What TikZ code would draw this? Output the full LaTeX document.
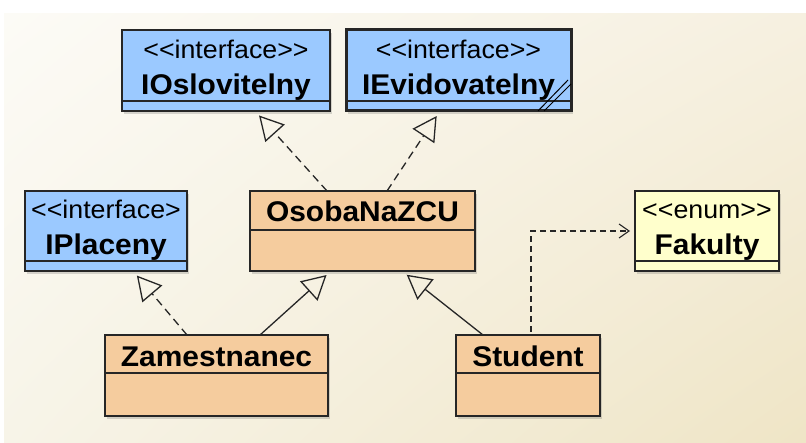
\documentclass[tikz,border=0pt]{standalone}
\usepackage{fontspec}
\setmainfont{Liberation Sans}
\newfontfamily\umlfont{Liberation Sans}[FakeStretch=1.05]
\usetikzlibrary{arrows.meta,positioning,shadows,shadings}
\definecolor{ifcblue}{RGB}{155,201,255}
\definecolor{clsorange}{RGB}{245,204,158}
\definecolor{enumyellow}{RGB}{255,255,204}
\definecolor{bgA}{RGB}{252,251,246}
\definecolor{bgB}{RGB}{246,240,224}
\definecolor{bgC}{RGB}{247,244,232}
\definecolor{bgD}{RGB}{239,229,198}
\newcommand\stereo[1]{<\kern0pt<#1>\kern0pt>}

\begin{document}
\begin{tikzpicture}[x=1pt, y=1pt,
cls/.style = {draw=black!85, line width=1.5pt, outer sep=0pt, inner sep=0pt,
              minimum height=81pt,
              drop shadow={shadow xshift=2pt, shadow yshift=-3pt,
                           opacity=0.25, fill=black!60}},
ifc/.style = {cls, fill=ifcblue},
cl/.style = {cls, fill=clsorange},
en/.style = {cls, fill=enumyellow},
nm/.style = {anchor=base, inner sep=0pt,
             font=\umlfont\bfseries\fontsize{28.5}{30}\selectfont},
st/.style = {anchor=base, inner sep=0pt,
             font=\umlfont\fontsize{25.5}{28}\selectfont},
sep/.style = {draw=black!85, line width=1.2pt},
real/.style = {draw=black!85, line width=1.3pt, dash pattern=on 8pt off 5pt,
               shorten >=6pt,
               -{Triangle[open, length=24pt, width=26pt, line width=1.3pt]}},
gen/.style = {draw=black!85, line width=1.3pt, shorten >=6pt,
              -{Triangle[open, length=24pt, width=26pt, line width=1.3pt]}},
dep/.style = {draw=black!85, line width=1.1pt, dash pattern=on 6pt off 4pt,
              shorten >=5pt, -{Straight Barb[length=10pt, width=14pt]}}
                ]
%% background
\useasboundingbox (0,0) rectangle (806,442);
\shade[upper left=bgA, upper right=bgB, lower left=bgC, lower right=bgD]
    (4,0) rectangle (806,428);

%% interfaces
\node (ioslov) [ifc, minimum width=208pt] at (226,371.5) {};
\node (ievid) [ifc, line width=3pt, minimum width=225pt] at (458.5,371.5) {};
\node (iplac) [ifc, minimum width=162pt, minimum height=80pt] at (106,211) {};
%% classes
\node (osoba) [cl, minimum width=225pt, minimum height=80pt] at (362.5,211) {};
\node (fak) [en, minimum width=144pt, minimum height=80pt] at (707,211) {};
\node (zam) [cl, minimum width=223pt] at (216.5,66.5) {};
\node (stud) [cl, minimum width=144pt] at (528,66.5) {};

%% compartments
\draw[sep] ([yshift=10pt]ioslov.south west) -- ([yshift=10pt]ioslov.south east);
\draw[sep, line width=2pt] ([yshift=10pt]ievid.south west) -- ([yshift=10pt]ievid.south east);
\draw[sep] ([yshift=10pt]iplac.south west) -- ([yshift=10pt]iplac.south east);
\draw[sep] ([yshift=10pt]fak.south west) -- ([yshift=10pt]fak.south east);
\draw[sep] ([yshift=41pt]osoba.south west) -- ([yshift=41pt]osoba.south east);
\draw[sep] ([yshift=43pt]zam.south west) -- ([yshift=43pt]zam.south east);
\draw[sep] ([yshift=43pt]stud.south west) -- ([yshift=43pt]stud.south east);
\draw[line width=1pt] ([xshift=-33pt]ievid.south east) -- ([xshift=-3pt,yshift=31pt]ievid.south east);
\draw[line width=1pt] ([xshift=-27pt]ievid.south east) -- ([yshift=27pt]ievid.south east);

%% texts
\node (ioslov-s) [st] at ([yshift=-29pt]ioslov.north) {\stereo{interface}};
\node (ioslov-n) [nm] at ([yshift=-65pt]ioslov.north) {IOslovitelny};
\node (ievid-s) [st] at ([yshift=-29pt]ievid.north) {\stereo{interface}};
\node (ievid-n) [nm] at ([yshift=-65pt]ievid.north) {IEvidovatelny};
\node (iplac-s) [st] at ([yshift=-28pt]iplac.north) {<\kern0pt<interface>};
\node (iplac-n) [nm] at ([yshift=-64pt]iplac.north) {IPlaceny};
\node (fak-s) [st] at ([yshift=-28pt]fak.north) {\stereo{enum}};
\node (fak-n) [nm] at ([yshift=-64pt]fak.north) {Fakulty};
\node (osoba-n) [nm] at ([yshift=-31pt]osoba.north) {OsobaNaZCU};
\node (zam-n) [nm] at ([yshift=-32pt]zam.north) {Zamestnanec};
\node (stud-n) [nm] at ([yshift=-32pt]stud.north) {Student};

%% connectors
\draw[real] ([xshift=77pt]osoba.north west) -- ([xshift=133pt]ioslov.south west);
\draw[real] ([xshift=137pt]osoba.north west) -- ([xshift=94pt]ievid.south west);
\draw[real] ([xshift=82pt]zam.north west) -- ([xshift=108pt]iplac.south west);
\draw[gen] ([xshift=155pt]zam.north west) -- ([xshift=81pt]osoba.south west);
\draw[gen] ([xshift=27pt]stud.north west) -- ([xshift=152pt]osoba.south west);
\draw[dep] ([xshift=75pt,yshift=3pt]stud.north west) |- (fak.west);
\end{tikzpicture}
\end{document}
